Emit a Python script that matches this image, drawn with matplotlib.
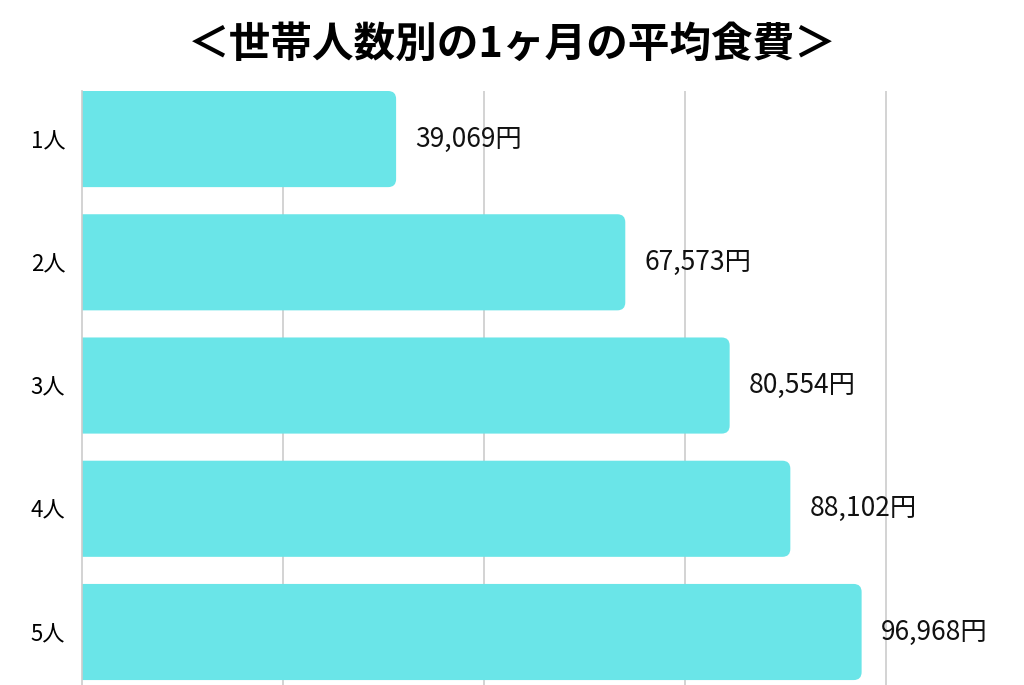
import matplotlib.pyplot as plt
from matplotlib.patches import FancyBboxPatch

plt.rcParams['font.family'] = ['Noto Sans CJK JP', 'DejaVu Sans']

# データ
categories = ['1人', '2人', '3人', '4人', '5人']
values = [39069, 67573, 80554, 88102, 96968]
title = '＜世帯人数別の1ヶ月の平均食費＞'

W, H = 1024, 685
fig = plt.figure(figsize=(W / 100, H / 100), dpi=100)
ax = fig.add_axes([82 / W, 0, 1 - 82 / W, 1 - 91 / H])

color = '#6ae5e8'
bars = ax.barh(range(len(values)), values, height=0.78, color=color)

xmax = 100000 * (W - 82) / 804
ax.set_xlim(0, xmax)
ax.set_ylim(4.43, -0.39)

# 右側だけ角丸にする (左端は軸でクリップ)
px_x = xmax / (W - 82)
px_y = (4.43 + 0.39) / (685 - 91)
r = 8
for b in bars:
    b.set_visible(False)
    x0, y0, w, h = b.get_x(), b.get_y(), b.get_width(), b.get_height()
    ext = 20 * px_x
    p = FancyBboxPatch((x0 - ext, y0), w + ext, h,
                       boxstyle='round,pad=0,rounding_size=%f' % (r * px_x),
                       mutation_aspect=px_y / px_x,
                       fc=color, ec='none', zorder=2)
    ax.add_patch(p)

for i, v in enumerate(values):
    ax.text(v + 19 * px_x, i, '{:,}円'.format(v), va='center', ha='left',
            fontsize=19, color='#111111', zorder=3)

ax.set_xticks([25000, 50000, 75000, 100000])
ax.xaxis.grid(True, color='#cccccc', linewidth=1.2)
ax.set_axisbelow(True)
ax.tick_params(axis='x', length=0, labelbottom=False)
ax.set_yticks(range(len(categories)))
ax.set_yticklabels(categories, fontsize=16)
ax.tick_params(axis='y', length=0, pad=12)
for s in ['top', 'right', 'bottom']:
    ax.spines[s].set_visible(False)
ax.spines['left'].set_color('#cccccc')
ax.spines['left'].set_linewidth(1.2)

fig.text(0.5, 1 - 45 / H, title, ha='center', va='center',
         fontsize=30, fontweight='bold')

fig.savefig('out.png', dpi=100)
